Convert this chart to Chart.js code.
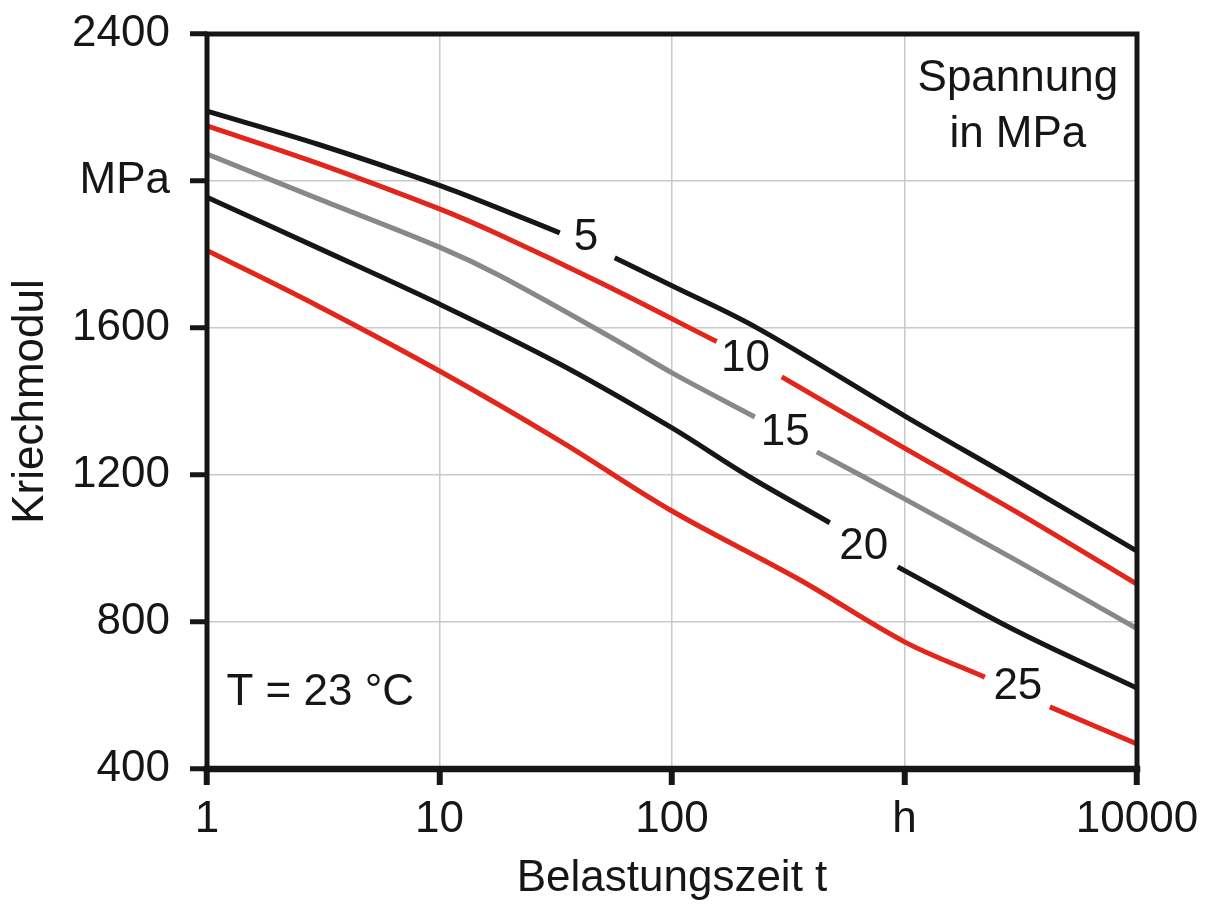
<!DOCTYPE html>
<html>
<head>
<meta charset="utf-8">
<script src="https://cdn.jsdelivr.net/npm/chart.js@4/dist/chart.umd.min.js"></script>
<style>
  html, body { margin: 0; padding: 0; background: #fff; }
  #wrap { width: 1210px; height: 906px; position: relative; }
</style>
</head>
<body>
<div id="wrap"><canvas id="c" width="1210" height="906"></canvas></div>
<script>
// ---- data ----
const xTickValues = [1, 10, 100, 1000, 10000];
const xTickLabels = ['1', '10', '100', 'h', '10000'];
const yTickLabels = ['400', '800', '1200', '1600', 'MPa', '2400'];

const time5  = [1, 3, 10, 20, 32.9, 42.7, 56.7, 100, 231, 1000, 3000, 10000];
const modul5 = [2190, 2100, 1988, 1914, 1859, null, 1791, 1715, 1601, 1361, 1187, 993];

const time10  = [1, 3, 10, 18.2, 50, 155.7, 207, 296.6, 1000, 3000, 10000];
const modul10 = [2150, 2048, 1924, 1853, 1721, 1563, null, 1467, 1273, 1101, 903];

const time15  = [1, 3, 10, 18.2, 60, 100, 227, 307, 419.5, 1000, 3000, 10000];
const modul15 = [2073, 1952, 1820, 1742, 1560, 1478, 1358, null, 1263, 1135, 969, 782];

const time20  = [1, 3, 10, 32.9, 100, 209, 477, 668, 935, 3020, 10000];
const modul20 = [1956, 1818, 1665, 1502, 1328, 1200, 1070, null, 950, 776, 620];

const time25  = [1, 3, 10, 32.9, 100, 354, 1000, 2217, 3073, 4220, 10000];
const modul25 = [1811, 1660, 1483, 1293, 1102, 915, 746, 650, null, 569, 468];

const curveLabels = ['5', '10', '15', '20', '25'];
const labelTime   = [42.7, 207, 307, 668, 3073];
const labelModul  = [1845, 1515, 1316, 1004, 623];

const noteLines = ['Spannung', 'in MPa'];
const noteTime  = [3073, 3073];
const noteModul = [2279, 2126];
const tempText  = 'T = 23 °C';
const tempTime  = 1.213;
const tempModul = 606;

// ---- styles ----
const BLACK = '#161616';
const RED = '#e2261b';
const GRAY = '#888888';
const FONT = '"Liberation Sans", Arial, Helvetica, sans-serif';

function series(times, values) {
  return times.map((t, i) => ({ x: t, y: values[i] }));
}
function ds(times, values, color) {
  return {
    data: series(times, values),
    borderColor: color,
    borderWidth: 5,
    pointRadius: 0,
    fill: false,
    spanGaps: false,
    tension: 0.35,
    borderCapStyle: 'butt',
    borderJoinStyle: 'round'
  };
}

const overlay = {
  id: 'overlay',
  afterDatasetsDraw(chart) {
    const { ctx, chartArea: a, scales: { x, y } } = chart;
    ctx.save();
    // frame
    ctx.strokeStyle = BLACK;
    ctx.lineCap = 'square';
    ctx.lineWidth = 5;
    ctx.beginPath();
    ctx.moveTo(a.left, a.bottom); ctx.lineTo(a.left, a.top);
    ctx.lineTo(a.right, a.top); ctx.lineTo(a.right, a.bottom);
    ctx.stroke();
    ctx.lineWidth = 6.5;
    ctx.beginPath();
    ctx.moveTo(a.left, a.bottom); ctx.lineTo(a.right, a.bottom);
    ctx.stroke();
    // texts
    ctx.fillStyle = BLACK;
    ctx.font = '44px ' + FONT;
    ctx.textAlign = 'center';
    ctx.textBaseline = 'middle';
    curveLabels.forEach((s, i) => {
      ctx.fillText(s, x.getPixelForValue(labelTime[i]), y.getPixelForValue(labelModul[i]));
    });
    noteLines.forEach((s, i) => {
      ctx.fillText(s, x.getPixelForValue(noteTime[i]), y.getPixelForValue(noteModul[i]));
    });
    ctx.textAlign = 'left';
    ctx.fillText(tempText, x.getPixelForValue(tempTime), y.getPixelForValue(tempModul));
    ctx.restore();
  }
};

new Chart(document.getElementById('c'), {
  type: 'line',
  data: {
    datasets: [
      ds(time5, modul5, BLACK),
      ds(time10, modul10, RED),
      ds(time15, modul15, GRAY),
      ds(time20, modul20, BLACK),
      ds(time25, modul25, RED)
    ]
  },
  options: {
    responsive: false,
    animation: false,
    devicePixelRatio: 1,
    layout: { padding: { left: 0, top: 34, right: 73, bottom: 0 } },
    plugins: { legend: { display: false }, tooltip: { enabled: false } },
    scales: {
      x: {
        type: 'logarithmic',
        min: 1, max: 10000,
        afterBuildTicks: s => { s.ticks = xTickValues.map(v => ({ value: v })); },
        afterFit: s => { s.height = 137; s.paddingLeft = 0; s.paddingRight = 0; },
        border: { display: false },
        grid: { color: '#c9c9c9', lineWidth: 1.5, tickColor: BLACK, tickWidth: 6, tickLength: 16 },
        ticks: {
          autoSkip: false, maxRotation: 0, padding: 8,
          color: BLACK, font: { family: FONT, size: 44 },
          callback: (v, i) => xTickLabels[i]
        },
        title: {
          display: true, text: 'Belastungszeit t', color: BLACK,
          font: { family: FONT, size: 44 }, padding: { top: 0, bottom: 1 }
        }
      },
      y: {
        type: 'linear',
        min: 400, max: 2400,
        ticks: {
          stepSize: 400, padding: 20,
          color: BLACK, font: { family: FONT, size: 44 },
          callback: (v, i) => yTickLabels[i]
        },
        afterFit: s => { s.width = 207; s.paddingTop = 0; s.paddingBottom = 0; },
        border: { display: false },
        grid: { color: '#c9c9c9', lineWidth: 1.5, tickColor: BLACK, tickWidth: 5, tickLength: 17 },
        title: {
          display: true, text: 'Kriechmodul', color: BLACK,
          font: { family: FONT, size: 44 }, padding: { top: 4, bottom: 0 }
        }
      }
    }
  },
  plugins: [overlay]
});
</script>
</body>
</html>
